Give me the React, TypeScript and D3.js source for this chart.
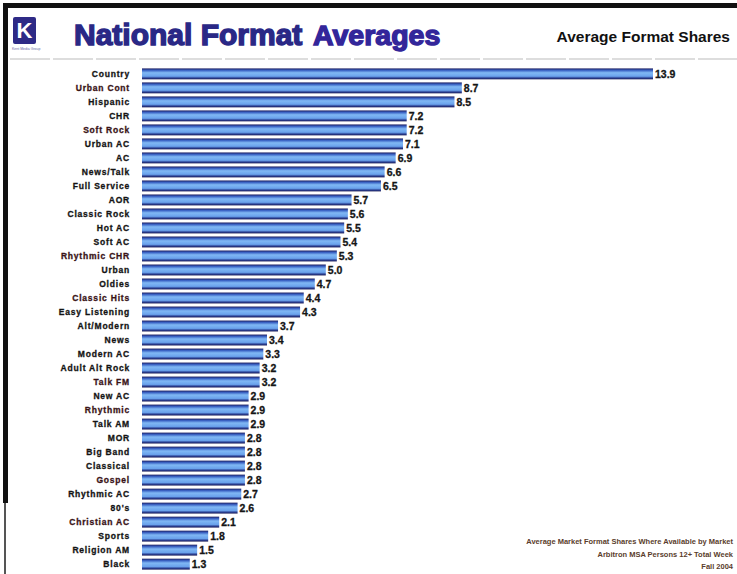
import React from 'react';
import * as d3 from 'd3';

const formats = [
  'Country', 'Urban Cont', 'Hispanic', 'CHR', 'Soft Rock', 'Urban AC', 'AC', 'News/Talk',
  'Full Service', 'AOR', 'Classic Rock', 'Hot AC', 'Soft AC', 'Rhythmic CHR', 'Urban',
  'Oldies', 'Classic Hits', 'Easy Listening', 'Alt/Modern', 'News', 'Modern AC',
  'Adult Alt Rock', 'Talk FM', 'New AC', 'Rhythmic', 'Talk AM', 'MOR', 'Big Band',
  'Classical', 'Gospel', 'Rhythmic AC', "80's", 'Christian AC', 'Sports', 'Religion AM', 'Black',
];

const shares = [
  13.9, 8.7, 8.5, 7.2, 7.2, 7.1, 6.9, 6.6, 6.5, 5.7, 5.6, 5.5, 5.4, 5.3, 5.0, 4.7, 4.4, 4.3,
  3.7, 3.4, 3.3, 3.2, 3.2, 2.9, 2.9, 2.9, 2.8, 2.8, 2.8, 2.8, 2.7, 2.6, 2.1, 1.8, 1.5, 1.3,
];

const footnotes = [
  'Average Market Format Shares Where Available by Market',
  'Arbitron MSA Persons 12+ Total Week',
  'Fall 2004',
];

// a few labels print in a dark maroon in the original
const maroon = new Set(['Urban Cont', 'Soft Rock', 'Rhythmic CHR', 'Classic Hits', 'Talk FM', 'Rhythmic', 'Gospel', 'Christian AC']);

const W = 737;
const H = 574;

export default function App() {
  const x = d3.scaleLinear().domain([0, 13.9]).range([142, 653]);
  const y = d3.scaleBand<string>().domain(formats).range([67, 571]).paddingInner(0.22).paddingOuter(0.1);
  const bh = y.bandwidth();

  return (
    <svg width={W} height={H} style={{ position: 'absolute', left: 0, top: 0, background: '#fff' }}
      fontFamily="'Liberation Sans', Arial, sans-serif">
      <defs>
        <linearGradient id="bar" x1="0" y1="0" x2="0" y2="1">
          <stop offset="0%" stopColor="#1c1f62" />
          <stop offset="18%" stopColor="#3b63c4" />
          <stop offset="40%" stopColor="#80b8f4" />
          <stop offset="72%" stopColor="#6aa2ec" />
          <stop offset="88%" stopColor="#2b3f92" />
          <stop offset="100%" stopColor="#181a55" />
        </linearGradient>
      </defs>

      {/* frame */}
      <rect x={3} y={3} width={W} height={5} fill="#111" />
      <rect x={3} y={3} width={5} height={500} fill="#111" />
      <rect x={4} y={503} width={2} height={H - 503} fill="#555" />
      <line x1={10} x2={W} y1={59} y2={59} stroke="#bbb" strokeWidth={1} strokeDasharray="40 3" />

      {/* logo */}
      <rect x={13} y={17} width={23} height={27} rx={2} fill="#2e2a86" />
      <text x={24.5} y={38} textAnchor="middle" fontSize={22} fontWeight="bold" fill="#fff">K</text>
      <text x={12} y={50} fontSize={3.5} fill="#6a6aa8">Kent Media Group</text>

      {/* title */}
      <text x={74} y={45} fontSize={30} fontWeight="bold" fill="#2a2886" stroke="#2a2886" strokeWidth={1.4}>
        National Format
      </text>
      <text x={313} y={45} fontSize={28.5} fontWeight="bold" fill="#33269a" stroke="#33269a" strokeWidth={1.4}>
        Averages
      </text>
      <text x={730} y={42} textAnchor="end" fontSize={15.5} fontWeight="bold" fill="#111">
        Average Format Shares
      </text>

      {/* bars */}
      {formats.map((f, i) => {
        const yy = y(f) as number;
        const cy = yy + bh / 2;
        const col = maroon.has(f) ? '#3a1418' : '#141414';
        return (
          <g key={f}>
            <text x={130} y={cy + 3} textAnchor="end" fontSize={8.5} fontWeight="bold"
              letterSpacing={0.8} fill={col} stroke={col} strokeWidth={0.3}>{f}</text>
            <rect x={x(0)} y={yy} width={x(shares[i]) - x(0)} height={bh} fill="url(#bar)" />
            <text x={x(shares[i]) + 2} y={cy + 4} fontSize={10.5} fontWeight="bold" fill="#151515"
              stroke="#151515" strokeWidth={0.3}>
              {shares[i].toFixed(1)}
            </text>
          </g>
        );
      })}

      {/* notes */}
      {footnotes.map((n, i) => (
        <text key={n} x={733} y={544 + i * 12.5} textAnchor="end" fontSize={7.5} fontWeight="bold"
          fill="#5a3d2c">{n}</text>
      ))}
    </svg>
  );
}
